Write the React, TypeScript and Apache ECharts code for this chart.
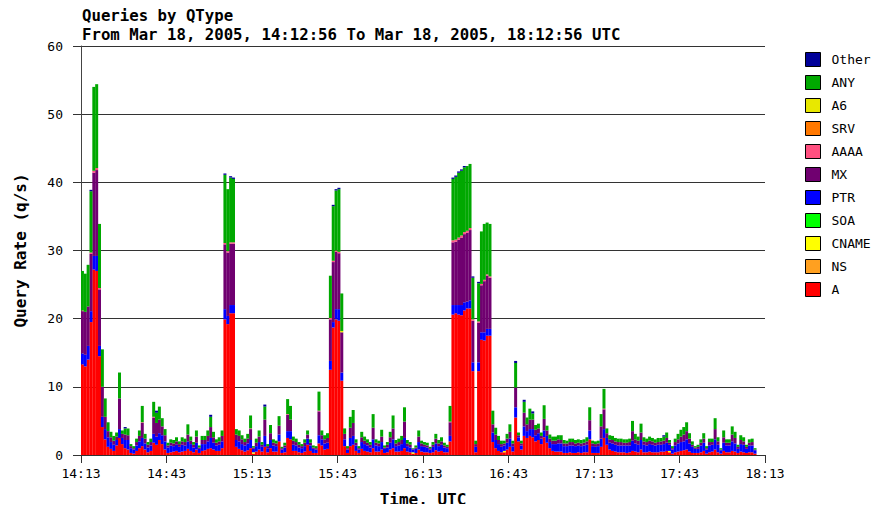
import React, { useEffect, useRef } from 'react';
import * as echarts from 'echarts';

// x-axis tick labels (every 30 minutes)
const timeLabels = ['14:13', '14:43', '15:13', '15:43', '16:13', '16:43', '17:13', '17:43', '18:13'];
const yTicks = [0, 10, 20, 30, 40, 50, 60];

// stacking order (bottom -> top)
const seriesNames = ['A', 'NS', 'CNAME', 'SOA', 'PTR', 'MX', 'AAAA', 'SRV', 'A6', 'ANY', 'Other'];
const legendOrder = ['Other', 'ANY', 'A6', 'SRV', 'AAAA', 'MX', 'PTR', 'SOA', 'CNAME', 'NS', 'A'];
const seriesColors: Record<string, string> = {
  A: '#ff0000', NS: '#ffa020', CNAME: '#ffff00', SOA: '#00ff00', PTR: '#0000ff',
  MX: '#700070', AAAA: '#ff5080', SRV: '#ff7800', A6: '#e8e800', ANY: '#00a800', Other: '#000099',
};

// one value per minute, from 14:13
const aValues = [
  13.3, 13.0, 14.0, 19.5, 27.2, 27.0, 14.5, 4.1, 2.3, 1.2,
  0.9, 0.6, 1.4, 2.5, 1.6, 1.0, 0.8, 0.3, 0.2, 0.6,
  1.0, 1.3, 0.8, 0.4, 0.6, 1.8, 1.5, 2.2, 1.6, 0.8,
  0.3, 0.4, 0.5, 0.6, 0.4, 0.5, 0.6, 0.9, 0.6, 0.4,
  0.8, 0.3, 0.6, 0.7, 0.9, 1.0, 0.8, 0.6, 0.6, 1.0,
  19.9, 19.2, 20.8, 20.8, 1.2, 0.9, 0.7, 0.5, 0.7, 1.0,
  0.2, 0.5, 0.8, 0.5, 1.2, 0.4, 1.0, 0.5, 0.5, 2.0,
  0.3, 0.4, 2.5, 2.3, 0.6, 0.6, 0.4, 0.3, 0.5, 1.5,
  0.6, 0.3, 0.3, 1.7, 1.4, 0.8, 0.9, 12.5, 18.7, 19.9,
  19.7, 10.9, 1.3, 0.3, 1.3, 1.5, 0.6, 0.3, 0.9, 0.6,
  0.5, 0.4, 1.0, 0.5, 0.5, 0.8, 0.3, 0.4, 0.8, 1.0,
  0.5, 0.5, 0.6, 1.0, 0.5, 0.4, 0.2, 0.3, 0.8, 0.5,
  0.4, 0.4, 0.3, 0.4, 0.7, 0.5, 0.6, 0.4, 0.4, 2.0,
  20.6, 20.8, 20.6, 20.5, 21.2, 21.5, 21.5, 12.3, 0.4, 12.3,
  16.9, 16.8, 17.5, 17.5, 1.9, 1.0, 0.6, 0.4, 0.4, 0.8,
  1.2, 0.5, 5.5, 2.0, 0.8, 2.8, 2.5, 2.8, 2.6, 2.0,
  2.2, 1.6, 2.6, 1.8, 1.0, 0.6, 0.5, 0.5, 0.5, 0.3,
  0.3, 0.4, 0.3, 0.3, 0.4, 0.3, 0.4, 0.4, 2.3, 0.3,
  0.3, 0.3, 1.2, 2.5, 1.5, 0.8, 0.6, 0.5, 0.4, 0.4,
  0.4, 0.3, 0.4, 0.6, 0.5, 0.4, 0.8, 0.4, 0.4, 0.5,
  0.4, 0.4, 0.4, 0.5, 0.5, 0.6, 0.4, 0.2, 0.4, 0.5,
  0.6, 0.7, 0.8, 0.5, 0.3, 0.3, 0.3, 0.4, 0.6, 0.2,
  0.4, 0.5, 0.8, 0.4, 0.2, 0.6, 0.4, 0.4, 0.6, 0.5,
  0.3, 0.5, 0.4, 0.3, 0.4, 0.4, 0.2,
];

const ptrValues = [
  1.6, 1.7, 2.0, 1.6, 2.0, 2.2, 1.5, 1.5, 1.5, 1.4,
  1.0, 0.9, 0.8, 1.3, 0.9, 1.2, 1.4, 0.7, 0.6, 0.8,
  1.0, 1.2, 0.9, 0.7, 0.8, 1.3, 1.2, 1.0, 1.3, 1.2,
  0.8, 1.0, 0.8, 0.9, 0.8, 1.0, 0.8, 1.1, 1.0, 0.7,
  1.0, 0.6, 1.0, 0.9, 1.1, 1.5, 1.0, 0.8, 0.9, 1.0,
  1.5, 1.2, 1.2, 1.2, 1.0, 1.1, 0.9, 0.9, 1.0, 1.2,
  0.5, 0.8, 1.1, 0.7, 1.6, 0.6, 1.2, 0.9, 0.8, 1.0,
  0.5, 0.7, 1.0, 1.2, 0.9, 0.8, 0.7, 0.7, 0.8, 0.9,
  0.8, 0.6, 0.5, 1.2, 0.9, 0.9, 0.9, 1.3, 0.8, 1.5,
  1.7, 1.2, 1.0, 0.5, 1.2, 1.3, 0.8, 0.5, 1.0, 1.0,
  0.9, 0.7, 1.3, 0.9, 0.8, 1.1, 0.6, 0.7, 1.0, 1.3,
  0.8, 0.9, 1.0, 1.5, 0.8, 0.7, 0.4, 0.6, 1.1, 0.8,
  0.8, 0.7, 0.5, 0.8, 1.0, 0.8, 0.9, 0.7, 0.6, 0.8,
  1.4, 1.2, 1.4, 1.5, 1.2, 1.0, 1.2, 1.3, 0.8, 1.3,
  1.1, 1.2, 1.0, 1.0, 1.4, 1.2, 1.0, 0.8, 0.8, 1.0,
  1.2, 0.8, 1.5, 0.6, 0.6, 1.4, 1.0, 1.0, 1.2, 0.9,
  1.0, 0.8, 1.0, 1.0, 0.9, 1.0, 1.1, 1.2, 1.2, 1.0,
  1.0, 1.0, 1.1, 1.0, 1.0, 1.0, 1.0, 1.1, 1.3, 1.0,
  0.9, 1.0, 1.2, 1.3, 1.0, 1.0, 1.1, 1.0, 1.0, 1.0,
  1.0, 1.1, 1.0, 1.5, 1.2, 1.1, 1.4, 1.1, 1.0, 1.1,
  1.1, 1.0, 1.1, 1.0, 1.1, 1.2, 0.9, 0.6, 1.0, 1.2,
  1.3, 1.3, 1.5, 1.2, 0.9, 0.6, 0.6, 1.0, 1.2, 0.6,
  1.0, 1.0, 1.5, 1.1, 0.5, 1.2, 1.0, 1.0, 1.4, 1.2,
  0.6, 1.1, 1.1, 0.6, 1.0, 1.0, 0.5,
];

const mxValues = [
  6.2, 6.3, 5.8, 8.4, 12.2, 12.6, 8.3, 4.4, 1.8, 0.9,
  0.7, 0.6, 0.5, 4.5, 0.6, 0.8, 0.7, 0.3, 0.2, 0.5,
  0.8, 2.2, 0.7, 0.4, 0.5, 2.4, 2.0, 2.0, 1.3, 0.9,
  0.3, 0.4, 0.4, 0.5, 0.4, 0.5, 0.5, 1.0, 0.5, 0.4,
  0.9, 0.2, 0.6, 0.6, 0.8, 1.6, 0.8, 0.4, 0.5, 0.8,
  9.5, 9.3, 9.0, 9.0, 0.8, 0.8, 0.7, 0.5, 0.7, 1.6,
  0.2, 0.5, 0.8, 0.3, 2.4, 0.3, 1.0, 0.4, 0.4, 1.3,
  0.2, 0.3, 2.4, 1.7, 0.6, 0.5, 0.4, 0.3, 0.5, 0.6,
  0.4, 0.2, 0.2, 3.5, 0.6, 0.6, 0.7, 6.1, 8.8, 8.4,
  8.2, 5.9, 0.8, 0.2, 1.5, 1.9, 0.4, 0.2, 0.7, 0.5,
  0.4, 0.4, 1.7, 0.4, 0.4, 0.8, 0.2, 0.4, 0.8, 1.6,
  0.4, 0.5, 0.6, 2.4, 0.4, 0.4, 0.1, 0.2, 0.8, 0.4,
  0.3, 0.3, 0.2, 0.3, 0.7, 0.4, 0.5, 0.3, 0.2, 2.0,
  9.2, 9.3, 9.6, 9.9, 10.0, 10.1, 10.3, 6.1, 0.4, 5.8,
  6.9, 7.5, 7.8, 7.5, 1.2, 0.8, 0.6, 0.4, 0.3, 0.6,
  1.0, 0.4, 2.9, 0.3, 0.3, 2.0, 1.0, 1.4, 1.4, 0.8,
  0.7, 0.4, 1.7, 0.8, 0.5, 0.5, 0.5, 0.6, 0.5, 0.4,
  0.4, 0.5, 0.5, 0.4, 0.4, 0.4, 0.4, 0.5, 1.5, 0.4,
  0.4, 0.4, 1.8, 2.9, 0.7, 0.5, 0.5, 0.5, 0.5, 0.5,
  0.4, 0.4, 0.5, 1.4, 0.6, 0.6, 1.1, 0.5, 0.5, 0.5,
  0.5, 0.4, 0.4, 0.5, 0.5, 0.7, 0.3, 0.2, 0.5, 0.6,
  0.8, 1.0, 1.2, 0.7, 0.3, 0.2, 0.3, 0.4, 0.6, 0.2,
  0.5, 0.4, 1.5, 0.5, 0.1, 0.8, 0.4, 0.4, 1.0, 0.8,
  0.3, 0.6, 0.5, 0.3, 0.4, 0.5, 0.1,
];

const anyValues = [
  5.8, 5.6, 6.1, 9.0, 12.3, 12.3, 9.4, 5.5, 2.7, 1.3,
  0.8, 0.7, 0.6, 3.8, 0.5, 0.9, 1.0, 0.3, 0.3, 0.5,
  0.8, 2.4, 0.7, 0.4, 0.5, 2.2, 1.5, 1.9, 1.2, 0.9,
  0.4, 0.5, 0.5, 0.6, 0.4, 0.6, 0.5, 1.5, 0.6, 0.4,
  0.9, 0.3, 0.6, 0.6, 0.8, 1.5, 0.8, 0.5, 0.6, 0.8,
  10.0, 9.1, 9.5, 9.3, 0.8, 0.8, 0.6, 0.5, 0.7, 1.9,
  0.2, 0.6, 0.9, 0.4, 1.9, 0.3, 1.2, 0.5, 0.4, 1.4,
  0.2, 0.4, 2.2, 2.0, 0.6, 0.5, 0.4, 0.3, 0.5, 0.6,
  0.5, 0.3, 0.3, 2.8, 0.7, 0.6, 0.7, 6.2, 8.0, 8.8,
  9.2, 5.5, 0.8, 0.3, 1.6, 1.9, 0.5, 0.3, 0.8, 0.6,
  0.5, 0.4, 2.0, 0.5, 0.4, 1.0, 0.3, 0.4, 0.8, 1.9,
  0.5, 0.5, 0.6, 2.1, 0.5, 0.4, 0.1, 0.3, 0.9, 0.4,
  0.4, 0.4, 0.2, 0.4, 0.7, 0.5, 0.6, 0.4, 0.3, 2.3,
  9.0, 9.2, 9.5, 9.5, 9.5, 9.5, 9.4, 6.1, 0.5, 5.6,
  7.7, 8.2, 7.6, 7.7, 2.0, 1.0, 0.6, 0.5, 0.4, 0.7,
  1.1, 0.4, 3.6, 0.4, 0.4, 1.6, 1.0, 1.6, 0.9, 0.7,
  0.7, 0.5, 2.0, 0.7, 0.6, 0.6, 0.6, 0.6, 0.7, 0.5,
  0.4, 0.5, 0.5, 0.5, 0.5, 0.5, 0.5, 0.6, 1.9, 0.4,
  0.4, 0.4, 1.8, 2.9, 0.7, 0.6, 0.6, 0.5, 0.5, 0.5,
  0.5, 0.5, 0.5, 1.5, 0.8, 0.6, 1.3, 0.6, 0.5, 0.6,
  0.5, 0.5, 0.6, 0.5, 0.6, 0.8, 0.4, 0.3, 0.5, 0.8,
  1.0, 1.1, 1.3, 0.8, 0.5, 0.2, 0.3, 0.5, 0.8, 0.3,
  0.5, 0.5, 1.6, 0.6, 0.2, 1.0, 0.5, 0.5, 1.2, 0.9,
  0.3, 0.7, 0.6, 0.3, 0.5, 0.5, 0.2,
];

// sparse series: [minute index, value]
const aaaaPoints: [number, number][] = [
  [0, 0.1], [3, 0.2], [4, 0.3], [5, 0.3], [6, 0.2], [21, 0.1], [25, 0.1],
  [50, 0.2], [51, 0.2], [52, 0.2], [53, 0.2], [59, 0.1], [72, 0.1], [83, 0.1],
  [87, 0.2], [88, 0.2], [89, 0.2], [90, 0.2], [129, 0.1],
  [130, 0.3], [131, 0.3], [132, 0.3], [133, 0.3], [134, 0.3], [135, 0.3], [136, 0.3],
  [137, 0.2], [139, 0.2], [140, 0.2], [141, 0.2], [142, 0.2], [143, 0.2], [183, 0.1],
];
const otherPoints: [number, number][] = [
  [3, 0.2], [15, 0.2], [26, 0.3], [45, 0.3], [50, 0.2], [52, 0.2], [53, 0.2], [64, 0.3],
  [88, 0.2], [89, 0.2], [90, 0.2], [130, 0.2], [131, 0.2], [132, 0.2], [133, 0.2], [134, 0.2],
  [137, 0.2], [139, 0.2], [152, 0.3], [155, 0.3], [158, 0.3], [204, 0.2],
];
const cnamePoints: [number, number][] = [[60, 0.2], [116, 0.2], [148, 0.2], [206, 0.2]];
const a6Points: [number, number][] = [[91, 0.2]];
const srvPoints: [number, number][] = [];
const nsPoints: [number, number][] = [];
const soaPoints: [number, number][] = [];

const MINUTES = 240;

function expand(points: [number, number][]): number[] {
  const arr: number[] = aValues.map(() => 0);
  points.forEach(([i, v]) => { arr[i] = v; });
  return arr;
}

const seriesData: Record<string, number[]> = {
  A: aValues,
  NS: expand(nsPoints),
  CNAME: expand(cnamePoints),
  SOA: expand(soaPoints),
  PTR: ptrValues,
  MX: mxValues,
  AAAA: expand(aaaaPoints),
  SRV: expand(srvPoints),
  A6: expand(a6Points),
  ANY: anyValues,
  Other: expand(otherPoints),
};

const MONO = '"DejaVu Sans Mono", "Liberation Mono", monospace';

export default function App() {
  const ref = useRef<HTMLDivElement>(null);

  useEffect(() => {
    if (!ref.current) return;
    const chart = echarts.init(ref.current, undefined, { renderer: 'svg' });
    const categories = Array.from({ length: MINUTES }, (_, i) => String(i));

    chart.setOption({
      animation: false,
      backgroundColor: '#ffffff',
      title: {
        text: 'Queries by QType\nFrom Mar 18, 2005, 14:12:56 To Mar 18, 2005, 18:12:56 UTC',
        left: 77,
        top: 1,
        textStyle: {
          fontFamily: MONO,
          fontWeight: 'bold',
          fontSize: 15.7,
          lineHeight: 19,
          color: '#000',
        },
      },
      legend: {
        orient: 'vertical',
        left: 800,
        top: 47,
        itemWidth: 15,
        itemHeight: 14,
        itemGap: 8,
        icon: 'rect',
        data: legendOrder,
        selectedMode: false,
        itemStyle: { borderColor: '#000', borderWidth: 1 },
        textStyle: { fontFamily: MONO, fontSize: 13, color: '#000', padding: [0, 0, 0, 6] },
      },
      grid: { left: 81, right: 117, top: 46, bottom: 56, containLabel: false },
      xAxis: [
        {
          type: 'category',
          data: categories,
          show: false,
          boundaryGap: true,
        },
        {
          type: 'value',
          min: 0,
          max: 240,
          interval: 30,
          position: 'bottom',
          name: 'Time, UTC',
          nameLocation: 'middle',
          nameGap: 36,
          nameTextStyle: { fontFamily: MONO, fontWeight: 'bold', fontSize: 16, color: '#000' },
          axisLine: { show: true, onZero: false, lineStyle: { color: '#333', width: 1 } },
          axisTick: { show: true, length: 8, lineStyle: { color: '#333' } },
          axisLabel: {
            margin: 12,
            fontFamily: MONO,
            fontSize: 13,
            color: '#000',
            formatter: (v: number) => timeLabels[Math.round(v / 30)] ?? '',
          },
          splitLine: { show: false },
        },
      ],
      yAxis: {
        type: 'value',
        min: yTicks[0],
        max: yTicks[yTicks.length - 1],
        interval: 10,
        name: 'Query Rate (q/s)',
        nameLocation: 'middle',
        nameGap: 53,
        nameTextStyle: { fontFamily: MONO, fontWeight: 'bold', fontSize: 16, color: '#000' },
        axisLine: { show: true, lineStyle: { color: '#444', width: 1 } },
        axisTick: { show: true, length: 8, lineStyle: { color: '#333' } },
        axisLabel: { margin: 18, fontFamily: MONO, fontSize: 13, color: '#000' },
        splitLine: { show: true, lineStyle: { color: '#333', width: 1 } },
      },
      series: seriesNames.map((name) => ({
        name,
        type: 'bar',
        stack: 'total',
        xAxisIndex: 0,
        barWidth: 3,
        barCategoryGap: '0%',
        silent: true,
        itemStyle: { color: seriesColors[name], borderWidth: 0 },
        emphasis: { disabled: true },
        data: seriesData[name],
      })),
    });

    return () => chart.dispose();
  }, []);

  return <div ref={ref} style={{ width: 882, height: 512, margin: -8 }} />;
}
